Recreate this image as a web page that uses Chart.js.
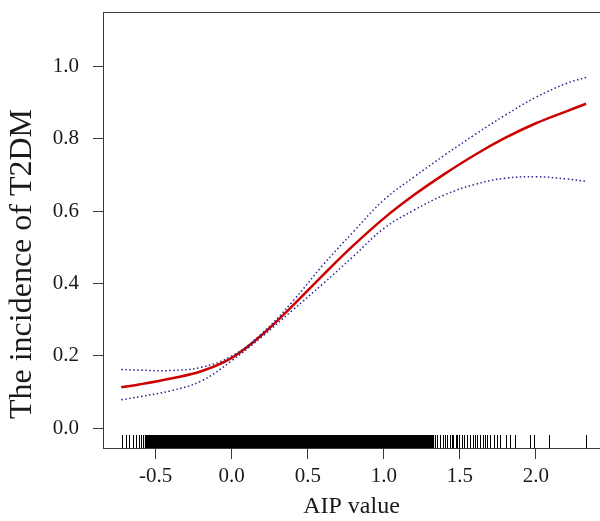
<!DOCTYPE html>
<html>
<head>
<meta charset="utf-8">
<script src="https://cdn.jsdelivr.net/npm/chart.js@4.4.1/dist/chart.umd.min.js"></script>
<style>
  html, body { margin: 0; padding: 0; background: #fff; overflow: hidden; }
  #wrap { width: 600px; height: 521px; position: relative; }
</style>
</head>
<body>
<div id="wrap"><canvas id="curve"></canvas></div>
<script>
// tick labels
const xTicks = [-0.5, 0, 0.5, 1, 1.5, 2];
const yTicks = [0, 0.2, 0.4, 0.6, 0.8, 1.0];

// smoothed fit and 95% CI
const aipX   = [-0.726, -0.6, -0.4, -0.2, 0, 0.2, 0.4, 0.6, 0.8, 1.0, 1.2, 1.4, 1.6, 1.8, 2.0, 2.2, 2.33];
const fitY   = [0.113, 0.121, 0.137, 0.157, 0.194, 0.258, 0.338, 0.423, 0.505, 0.580, 0.645, 0.703, 0.756, 0.803, 0.843, 0.876, 0.897];
const upperY = [0.162, 0.160, 0.159, 0.168, 0.199, 0.262, 0.350, 0.451, 0.543, 0.631, 0.695, 0.755, 0.812, 0.866, 0.915, 0.953, 0.970];
const lowerY = [0.078, 0.087, 0.103, 0.130, 0.186, 0.253, 0.326, 0.399, 0.475, 0.552, 0.603, 0.645, 0.674, 0.691, 0.695, 0.689, 0.682];

// rug of observed AIP values (dense block drawn with thicker strokes)
const rugSparse = [-0.719, -0.697, -0.675, -0.649, -0.627, -0.610, -0.597, -0.583, -0.572,
  1.336, 1.351, 1.368, 1.386, 1.401, 1.417, 1.434, 1.445, 1.456, 1.474, 1.482, 1.496, 1.511, 1.526,
  1.544, 1.566, 1.583, 1.599, 1.614, 1.632, 1.649, 1.664, 1.680, 1.697, 1.724, 1.741, 1.763,
  1.803, 1.829, 1.862, 1.961, 1.987, 2.088, 2.327];
const rugDense = [-0.56, -0.54, -0.52, -0.50, -0.48, -0.46, -0.44, -0.42, -0.40, -0.38, -0.36, -0.34,
  -0.32, -0.30, -0.28, -0.26, -0.24, -0.22, -0.20, -0.18, -0.16, -0.14, -0.12, -0.10, -0.08, -0.06,
  -0.04, -0.02, 0.00, 0.02, 0.04, 0.06, 0.08, 0.10, 0.12, 0.14, 0.16, 0.18, 0.20, 0.22, 0.24, 0.26,
  0.28, 0.30, 0.32, 0.34, 0.36, 0.38, 0.40, 0.42, 0.44, 0.46, 0.48, 0.50, 0.52, 0.54, 0.56, 0.58,
  0.60, 0.62, 0.64, 0.66, 0.68, 0.70, 0.72, 0.74, 0.76, 0.78, 0.80, 0.82, 0.84, 0.86, 0.88, 0.90,
  0.92, 0.94, 0.96, 0.98, 1.00, 1.02, 1.04, 1.06, 1.08, 1.10, 1.12, 1.14, 1.16, 1.18, 1.20, 1.22,
  1.24, 1.26, 1.28, 1.30, 1.32];

const xTitle = "AIP value";
const yTitle = "The incidence of T2DM";

const serif = "'Liberation Serif', 'Times New Roman', serif";
const ink = "#1a1a1a";
const axisCol = "#3a3a3a";

const toPts = ys => aipX.map((x, i) => ({ x: x, y: ys[i] }));

// R-like frame, rug and rotated y label
const extras = {
  id: "extras",
  afterDatasetsDraw(chart) {
    const ctx = chart.ctx;
    const area = chart.chartArea;
    const xs = chart.scales.x;
    ctx.save();
    ctx.strokeStyle = "#000";
    ctx.lineWidth = 3.2;
    ctx.beginPath();
    rugDense.forEach(v => {
      const px = xs.getPixelForValue(v);
      ctx.moveTo(px, area.bottom);
      ctx.lineTo(px, area.bottom - 13);
    });
    ctx.stroke();
    ctx.lineWidth = 1;
    ctx.beginPath();
    rugSparse.forEach(v => {
      const px = Math.round(xs.getPixelForValue(v)) + 0.5;
      ctx.moveTo(px, area.bottom);
      ctx.lineTo(px, area.bottom - 13);
    });
    ctx.stroke();
    // top edge of the box
    ctx.strokeStyle = axisCol;
    ctx.beginPath();
    ctx.moveTo(area.left, Math.round(area.top) + 0.5);
    ctx.lineTo(area.right, Math.round(area.top) + 0.5);
    ctx.stroke();
    // y axis title
    ctx.translate(23, 264);
    ctx.rotate(-Math.PI / 2);
    ctx.fillStyle = ink;
    ctx.font = "32px " + serif;
    ctx.textAlign = "center";
    ctx.textBaseline = "middle";
    ctx.fillText(yTitle, 0, 0);
    ctx.restore();
  }
};

const noPad = s => { s.paddingTop = 0; s.paddingBottom = 0; s.paddingLeft = 0; s.paddingRight = 0; };

new Chart(document.getElementById("curve"), {
  type: "line",
  data: {
    datasets: [
      {
        label: "upper",
        data: toPts(upperY),
        borderColor: "#26268c",
        borderWidth: 1.5,
        borderDash: [1.5, 2.5],
        pointRadius: 0,
        tension: 0.4,
        fill: false
      },
      {
        label: "lower",
        data: toPts(lowerY),
        borderColor: "#26268c",
        borderWidth: 1.5,
        borderDash: [1.5, 2.5],
        pointRadius: 0,
        tension: 0.4,
        fill: false
      },
      {
        label: "fit",
        data: toPts(fitY),
        borderColor: "#cc0000",
        borderWidth: 2.5,
        pointRadius: 0,
        tension: 0.4,
        fill: false
      }
    ]
  },
  options: {
    responsive: true,
    maintainAspectRatio: false,
    animation: false,
    events: [],
    layout: { padding: { top: 12, left: 0, right: 0, bottom: 0 } },
    plugins: { legend: { display: false }, tooltip: { enabled: false } },
    scales: {
      x: {
        type: "linear",
        min: -0.846,
        max: 2.421,
        afterBuildTicks: s => { s.ticks = xTicks.map(v => ({ value: v })); },
        afterFit: s => { s.height = 73; noPad(s); },
        border: { display: true, color: axisCol, width: 1 },
        grid: { drawOnChartArea: false, drawTicks: true, tickLength: 11, color: axisCol },
        ticks: {
          padding: 5,
          color: ink,
          font: { family: serif, size: 21 },
          maxRotation: 0,
          callback: v => v.toFixed(1)
        },
        title: {
          display: true,
          text: xTitle,
          color: ink,
          font: { family: serif, size: 24 },
          padding: { top: 0, bottom: 0 }
        }
      },
      y: {
        type: "linear",
        min: -0.0553,
        max: 1.1508,
        afterBuildTicks: s => { s.ticks = yTicks.map(v => ({ value: v })); },
        afterFit: s => { s.width = 103; noPad(s); },
        border: { display: true, color: axisCol, width: 1 },
        grid: { drawOnChartArea: false, drawTicks: true, tickLength: 10, color: axisCol },
        ticks: {
          padding: 14,
          color: ink,
          font: { family: serif, size: 21 },
          callback: v => v.toFixed(1)
        }
      }
    }
  },
  plugins: [extras]
});
</script>
</body>
</html>
